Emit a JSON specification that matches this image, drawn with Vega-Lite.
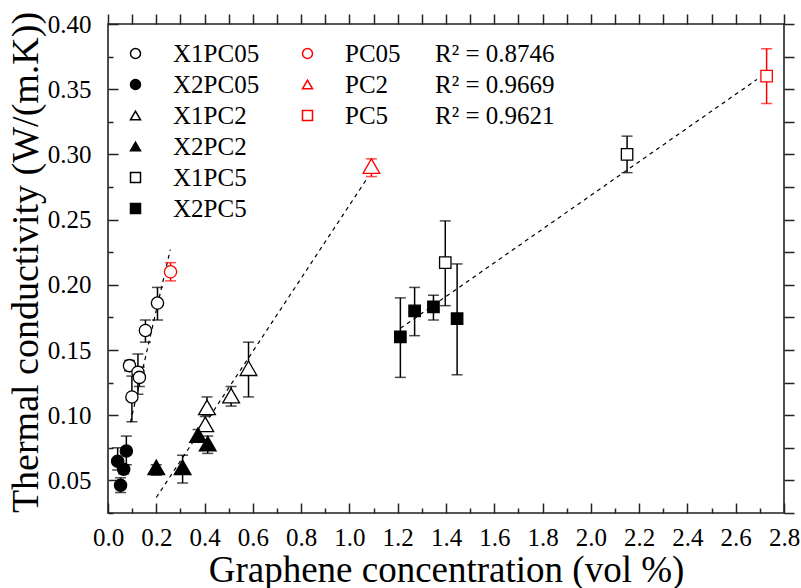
{
  "$schema": "https://vega.github.io/schema/vega-lite/v6.json",
  "width": 676,
  "height": 489,
  "autosize": {"type": "none"},
  "padding": {"left": 108, "top": 24, "right": 17, "bottom": 75},
  "background": "white",
  "config": {
    "font": "Liberation Serif",
    "view": {"stroke": "#222", "strokeWidth": 1.6},
    "axis": {"grid": false, "domain": false, "labelFont": "Liberation Serif", "titleFont": "Liberation Serif"},
    "legend": {"labelFont": "Liberation Serif"}
  },
  "datasets": {
    "pts": [
      {"series": "X1PC05", "x": 0.089, "y": 0.138, "lo": 0.134, "hi": 0.142},
      {"series": "X1PC05", "x": 0.099, "y": 0.114, "lo": 0.095, "hi": 0.130},
      {"series": "X1PC05", "x": 0.124, "y": 0.133, "lo": 0.116, "hi": 0.147},
      {"series": "X1PC05", "x": 0.130, "y": 0.129, "lo": 0.122, "hi": 0.137},
      {"series": "X1PC05", "x": 0.155, "y": 0.165, "lo": 0.156, "hi": 0.173},
      {"series": "X1PC05", "x": 0.205, "y": 0.186, "lo": 0.173, "hi": 0.198},
      {"series": "X2PC05", "x": 0.040, "y": 0.0647, "lo": 0.058, "hi": 0.075},
      {"series": "X2PC05", "x": 0.052, "y": 0.0463, "lo": 0.0407, "hi": 0.052},
      {"series": "X2PC05", "x": 0.065, "y": 0.0586, "lo": 0.055, "hi": 0.062},
      {"series": "X2PC05", "x": 0.076, "y": 0.0726, "lo": 0.062, "hi": 0.084},
      {"series": "X1PC2", "x": 0.403, "y": 0.093, "lo": 0.089, "hi": 0.099},
      {"series": "X1PC2", "x": 0.410, "y": 0.106, "lo": 0.100, "hi": 0.114},
      {"series": "X1PC2", "x": 0.510, "y": 0.115, "lo": 0.107, "hi": 0.122},
      {"series": "X1PC2", "x": 0.582, "y": 0.136, "lo": 0.114, "hi": 0.156},
      {"series": "X2PC2", "x": 0.200, "y": 0.060, "lo": 0.054, "hi": 0.062},
      {"series": "X2PC2", "x": 0.309, "y": 0.060, "lo": 0.048, "hi": 0.0693},
      {"series": "X2PC2", "x": 0.373, "y": 0.0847, "lo": 0.080, "hi": 0.089},
      {"series": "X2PC2", "x": 0.413, "y": 0.0783, "lo": 0.0707, "hi": 0.084},
      {"series": "X1PC5", "x": 1.397, "y": 0.217, "lo": 0.184, "hi": 0.249},
      {"series": "X1PC5", "x": 2.150, "y": 0.300, "lo": 0.286, "hi": 0.314},
      {"series": "X2PC5", "x": 1.211, "y": 0.160, "lo": 0.129, "hi": 0.190},
      {"series": "X2PC5", "x": 1.270, "y": 0.180, "lo": 0.161, "hi": 0.198},
      {"series": "X2PC5", "x": 1.348, "y": 0.183, "lo": 0.173, "hi": 0.192},
      {"series": "X2PC5", "x": 1.446, "y": 0.174, "lo": 0.131, "hi": 0.216},
      {"series": "PC05", "x": 0.259, "y": 0.210, "lo": 0.203, "hi": 0.217},
      {"series": "PC2", "x": 1.091, "y": 0.291, "lo": 0.283, "hi": 0.2966},
      {"series": "PC5", "x": 2.728, "y": 0.360, "lo": 0.339, "hi": 0.381}
    ],
    "fits": [
      {"fit": "PC05", "r2": "R² = 0.8746", "x": 0.093, "y": 0.0945},
      {"fit": "PC05", "r2": "R² = 0.8746", "x": 0.258, "y": 0.227},
      {"fit": "PC2", "r2": "R² = 0.9669", "x": 0.200, "y": 0.0369},
      {"fit": "PC2", "r2": "R² = 0.9669", "x": 1.073, "y": 0.2815},
      {"fit": "PC5", "r2": "R² = 0.9621", "x": 1.211, "y": 0.1666},
      {"fit": "PC5", "r2": "R² = 0.9621", "x": 2.688, "y": 0.3575}
    ]
  },
  "layer": [
    {
      "data": {"name": "fits"},
      "mark": {"type": "line", "color": "#000", "strokeWidth": 1.2},
      "encoding": {
        "x": {"field": "x", "type": "quantitative", "scale": {"domain": [0, 2.8], "nice": false, "zero": false},
          "axis": {"orient": "bottom", "values": [0,0.2,0.4,0.6,0.8,1.0,1.2,1.4,1.6,1.8,2.0,2.2,2.4,2.6,2.8],
            "tickSize": -10, "tickWidth": 1.5, "tickColor": "#222", "format": ".1f",
            "labelFontSize": 25, "labelColor": "#000", "labelPadding": 22, "labelOverlap": false, "labelFlush": false,
            "title": "Graphene concentration (vol %)", "titleFontSize": 37, "titleFontWeight": "normal", "titleColor": "#000",
            "titleBaseline": "alphabetic", "titleY": 68}},
        "y": {"field": "y", "type": "quantitative", "scale": {"domain": [0.025, 0.40], "nice": false, "zero": false},
          "axis": {"orient": "left", "values": [0.05,0.1,0.15,0.2,0.25,0.3,0.35,0.4],
            "tickSize": -10, "tickWidth": 1.5, "tickColor": "#222", "format": ".2f",
            "labelFontSize": 25, "labelColor": "#000", "labelPadding": 27, "labelOverlap": false, "labelFlush": false,
            "title": "Thermal conductivity (W/(m.K))", "titleFontSize": 38, "titleFontWeight": "normal", "titleColor": "#000",
            "titleBaseline": "alphabetic", "titleX": -71, "titleY": 238}},
        "strokeDash": {"field": "r2", "type": "nominal",
          "scale": {"domain": ["R² = 0.8746", "R² = 0.9669", "R² = 0.9621"], "range": [[4,4],[4,4],[4,4]]},
          "legend": {"orient": "none", "legendX": 302, "legendY": 17, "title": null, "symbolOpacity": 0, "symbolSize": 1,
            "labelOffset": 0, "labelFontSize": 25, "labelColor": "#000", "rowPadding": 5}}
      }
    },
    {
      "data": {"name": "pts"},
      "mark": {"type": "rule", "strokeWidth": 1.5},
      "encoding": {
        "x": {"field": "x", "type": "quantitative", "scale": {"domain": [0, 2.8], "nice": false, "zero": false},
          "axis": {"orient": "top", "values": [0,0.1,0.2,0.3,0.4,0.5,0.6,0.7,0.8,0.9,1.0,1.1,1.2,1.3,1.4,1.5,1.6,1.7,1.8,1.9,2.0,2.1,2.2,2.3,2.4,2.5,2.6,2.7,2.8],
            "labels": false, "title": null, "tickSize": 10, "tickWidth": 1.5, "tickColor": "#222",
            "encode": {"ticks": {"update": {"y2": {"signal": "round(datum.value*10) % 2 == 0 ? 10 : 5"}}}}}},
        "y": {"field": "lo", "type": "quantitative", "scale": {"domain": [0.025, 0.40], "nice": false, "zero": false},
          "axis": {"orient": "right", "values": [0.025,0.05,0.075,0.1,0.125,0.15,0.175,0.2,0.225,0.25,0.275,0.3,0.325,0.35,0.375,0.4],
            "labels": false, "title": null, "tickSize": 10, "tickWidth": 1.5, "tickColor": "#222",
            "encode": {"ticks": {"update": {"x2": {"signal": "round(datum.value*40) % 2 == 0 ? -10 : -5"}}}}}},
        "y2": {"field": "hi"},
        "color": {"field": "series", "type": "nominal",
          "scale": {"domain": ["X1PC05","X2PC05","X1PC2","X2PC2","X1PC5","X2PC5","PC05","PC2","PC5"],
            "range": ["#000","#000","#000","#000","#000","#000","#ff0000","#ff0000","#ff0000"]}, "legend": null}
      }
    },
    {
      "data": {"name": "pts"},
      "mark": {"type": "tick", "orient": "horizontal", "size": 11, "thickness": 1.5},
      "encoding": {
        "x": {"field": "x", "type": "quantitative", "scale": {"domain": [0, 2.8], "nice": false, "zero": false},
          "axis": {"orient": "bottom", "values": [0.1,0.3,0.5,0.7,0.9,1.1,1.3,1.5,1.7,1.9,2.1,2.3,2.5,2.7],
            "labels": false, "title": null, "tickSize": -5, "tickWidth": 1.5, "tickColor": "#222"}},
        "y": {"field": "lo", "type": "quantitative", "scale": {"domain": [0.025, 0.40], "nice": false, "zero": false},
          "axis": {"orient": "left", "values": [0.025,0.075,0.125,0.175,0.225,0.275,0.325,0.375],
            "labels": false, "title": null, "tickSize": -5, "tickWidth": 1.5, "tickColor": "#222"}},
        "color": {"field": "series", "type": "nominal", "legend": null}
      }
    },
    {
      "data": {"name": "pts"},
      "mark": {"type": "tick", "orient": "horizontal", "size": 11, "thickness": 1.5},
      "encoding": {
        "x": {"field": "x", "type": "quantitative", "scale": {"domain": [0, 2.8], "nice": false, "zero": false}, "axis": null},
        "y": {"field": "hi", "type": "quantitative", "scale": {"domain": [0.025, 0.40], "nice": false, "zero": false}, "axis": null},
        "color": {"field": "series", "type": "nominal", "legend": null}
      }
    },
    {
      "data": {"name": "pts"},
      "transform": [{"filter": "indexof(['PC05','PC2','PC5'], datum.series) < 0"}],
      "mark": {"type": "point", "filled": false, "stroke": "#000", "strokeWidth": 1.3, "opacity": 1},
      "encoding": {
        "x": {"field": "x", "type": "quantitative", "scale": {"domain": [0, 2.8], "nice": false, "zero": false}, "axis": null},
        "y": {"field": "y", "type": "quantitative", "scale": {"domain": [0.025, 0.40], "nice": false, "zero": false}, "axis": null},
        "shape": {"field": "series", "type": "nominal",
          "scale": {"domain": ["X1PC05","X2PC05","X1PC2","X2PC2","X1PC5","X2PC5"],
            "range": ["circle","circle","triangle-up","triangle-up","square","square"]},
          "legend": {"orient": "none", "legendX": 15, "legendY": 17, "title": null, "symbolSize": 100,
            "labelOffset": 25, "labelFontSize": 25, "labelColor": "#000", "rowPadding": 5,
            "encode": {"symbols": {"update": {"stroke": {"value": "#000"}, "strokeWidth": {"value": 1.2},
              "size": {"signal": "indexof(['X1PC2','X2PC2'], datum.value) >= 0 ? 180 : 90"}}}}}},
        "fill": {"field": "series", "type": "nominal",
          "scale": {"domain": ["X1PC05","X2PC05","X1PC2","X2PC2","X1PC5","X2PC5"],
            "range": ["#fff","#000","#fff","#000","#fff","#000"]},
          "legend": {"orient": "none", "legendX": 15, "legendY": 17, "title": null, "symbolSize": 100,
            "labelOffset": 25, "labelFontSize": 25, "labelColor": "#000", "rowPadding": 5,
            "encode": {"symbols": {"update": {"stroke": {"value": "#000"}, "strokeWidth": {"value": 1.2},
              "size": {"signal": "indexof(['X1PC2','X2PC2'], datum.value) >= 0 ? 180 : 90"}}}}}},
        "size": {"field": "series", "type": "nominal",
          "scale": {"type": "ordinal", "domain": ["X1PC05","X2PC05","X1PC2","X2PC2","X1PC5","X2PC5","PC05","PC2","PC5"],
            "range": [150,150,280,280,130,130,150,280,130]}, "legend": null}
      }
    },
    {
      "data": {"name": "pts"},
      "transform": [{"filter": "indexof(['PC05','PC2','PC5'], datum.series) >= 0"}],
      "mark": {"type": "point", "filled": false, "fill": "#fff", "fillOpacity": 1, "stroke": "#ff0000", "strokeWidth": 1.3, "opacity": 1},
      "encoding": {
        "x": {"field": "x", "type": "quantitative", "scale": {"domain": [0, 2.8], "nice": false, "zero": false}, "axis": null},
        "y": {"field": "y", "type": "quantitative", "scale": {"domain": [0.025, 0.40], "nice": false, "zero": false}, "axis": null},
        "shape": {"field": "series", "type": "nominal",
          "scale": {"domain": ["PC05","PC2","PC5"], "range": ["circle","triangle-up","square"]},
          "legend": {"orient": "none", "legendX": 187, "legendY": 17, "title": null, "symbolSize": 100,
            "labelOffset": 25, "labelFontSize": 25, "labelColor": "#000", "rowPadding": 5,
            "encode": {"symbols": {"update": {"stroke": {"value": "#ff0000"}, "fill": {"value": "#fff"}, "strokeWidth": {"value": 1.2},
              "size": {"signal": "datum.value == 'PC2' ? 180 : 90"}}}}}},
        "size": {"field": "series", "type": "nominal",
          "scale": {"type": "ordinal", "domain": ["X1PC05","X2PC05","X1PC2","X2PC2","X1PC5","X2PC5","PC05","PC2","PC5"],
            "range": [150,150,280,280,130,130,150,280,130]}, "legend": null}
      }
    }
  ],
  "resolve": {
    "axis": {"x": "independent", "y": "independent"},
    "scale": {"shape": "independent", "fill": "independent"},
    "legend": {"shape": "independent", "fill": "independent", "strokeDash": "independent"}
  }
}
